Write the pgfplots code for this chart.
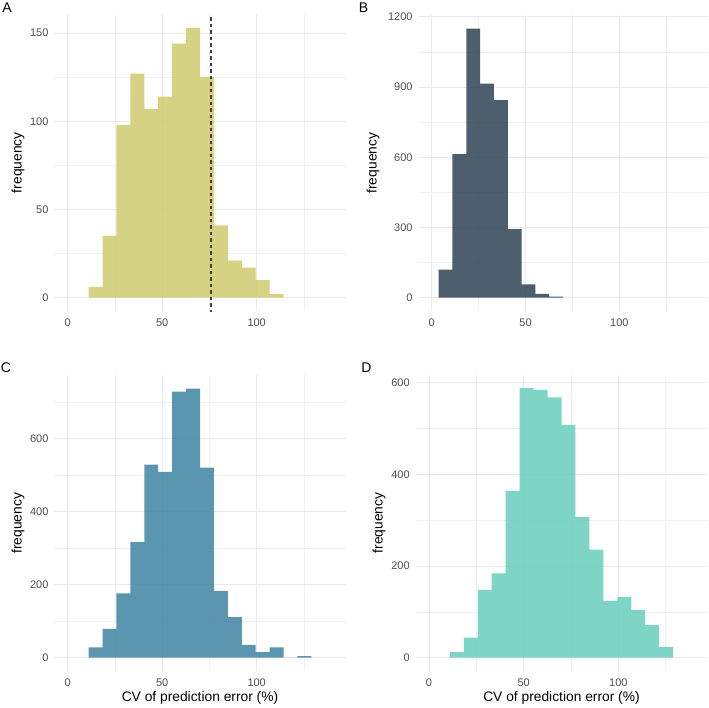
\documentclass[border=0pt]{standalone}
\usepackage{pgfplots}
\pgfplotsset{compat=1.18}
\usepackage{fontspec}
\setmainfont{Liberation Sans}
\definecolor{colA}{RGB}{208,204,115}
\definecolor{colB}{RGB}{52,72,88}
\definecolor{colC}{RGB}{68,136,165}
\definecolor{colD}{RGB}{108,207,190}
\definecolor{gridmaj}{RGB}{233,233,233}
\definecolor{gridmin}{RGB}{240,240,240}
\definecolor{ticktxt}{RGB}{77,77,77}
\pgfplotsset{
  panel/.style={
    scale only axis,
    anchor=south west,
    xmin=-7, xmax=147,
    xtick={0,50,100},
    minor xtick={25,75,125},
    axis line style={draw=none},
    major tick length=0pt, minor tick length=0pt,
    grid=both,
    major grid style={color=gridmaj, line width=0.8pt},
    minor grid style={color=gridmin, line width=0.45pt},
    /pgf/number format/assume math mode=true,
    /pgf/number format/1000 sep={},
    tick label style={font=\fontsize{11}{12}\selectfont, text=ticktxt},
    xticklabel style={yshift=-4pt},
    yticklabel style={xshift=-2.5pt},
    label style={font=\fontsize{13.8}{15}\selectfont},
    ylabel=frequency,
    clip=true,
  },
  bars/.style={ybar interval, fill=#1, fill opacity=0.88, draw=none}
}
\begin{document}
\begin{tikzpicture}
\path[use as bounding box] (0,0) rectangle (709pt,707pt);
% Panel A
\begin{axis}[panel, at={(54.5pt,395.8pt)}, width=291pt, height=296.9pt,
  ymin=-7.65, ymax=160.65, ytick={0,50,100,150}, minor ytick={25,75,125},
  ylabel style={at={(axis description cs:-0.1254,0.5)}, anchor=center}]
\addplot[bars=colA] coordinates {
(11.053,6) (18.421,35) (25.789,98) (33.158,127) (40.526,107) (47.895,114)
(55.263,144) (62.632,153) (70.000,125) (77.368,41) (84.737,21) (92.105,17)
(99.474,10) (106.842,2) (114.211,0)};
\addplot[dash pattern=on 3.5pt off 3pt, color=black!75, line width=1.8pt] coordinates {(75.7,-20) (75.7,200)};
\end{axis}
% Panel B
\begin{axis}[panel, at={(418.6pt,395.8pt)}, width=288.9pt, height=296.1pt,
  ymin=-57.5, ymax=1207.5, ytick={0,300,600,900,1200}, minor ytick={150,450,750,1050},
  ylabel style={at={(axis description cs:-0.158,0.5)}, anchor=center}]
\addplot[bars=colB] coordinates {
(3.684,120) (11.053,613) (18.421,1150) (25.789,915) (33.158,844) (40.526,293)
(47.895,57) (55.263,17) (62.632,5) (70.000,0)};
\end{axis}
% Panel C
\begin{axis}[panel, at={(54.5pt,35.9pt)}, width=291pt, height=295.9pt,
  ymin=-36.8, ymax=772.8, ytick={0,200,400,600}, minor ytick={100,300,500,700},
  ylabel style={at={(axis description cs:-0.1254,0.5)}, anchor=center},
  xlabel={CV of prediction error (\%)},
  xlabel style={at={(axis description cs:0.5,0)}, anchor=center, yshift=-27pt}]
\addplot[bars=colC] coordinates {
(11.053,28) (18.421,79) (25.789,176) (33.158,316) (40.526,528) (47.895,508)
(55.263,728) (62.632,736) (70.000,520) (77.368,183) (84.737,111) (92.105,35)
(99.474,15) (106.842,28) (114.211,0) (121.579,4) (128.947,0)};
\end{axis}
% Panel D
\begin{axis}[panel, at={(415.7pt,35.8pt)}, width=291.6pt, height=296.5pt,
  ymin=-29.4, ymax=617.4, ytick={0,200,400,600}, minor ytick={100,300,500},
  ylabel style={at={(axis description cs:-0.126,0.5)}, anchor=center},
  xlabel={CV of prediction error (\%)},
  xlabel style={at={(axis description cs:0.5,0)}, anchor=center, yshift=-27pt}]
\addplot[bars=colD] coordinates {
(11.053,12) (18.421,44) (25.789,148) (33.158,184) (40.526,364) (47.895,588)
(55.263,584) (62.632,568) (70.000,508) (77.368,307) (84.737,236) (92.105,124)
(99.474,132) (106.842,104) (114.211,71) (121.579,23) (128.947,0)};
\end{axis}
% panel letters
\node[font=\fontsize{14}{16}\selectfont] at (7pt,699pt) {A};
\node[font=\fontsize{14}{16}\selectfont] at (363.5pt,699pt) {B};
\node[font=\fontsize{14}{16}\selectfont] at (6pt,339pt) {C};
\node[font=\fontsize{14}{16}\selectfont] at (366.5pt,339pt) {D};
\end{tikzpicture}
\end{document}
